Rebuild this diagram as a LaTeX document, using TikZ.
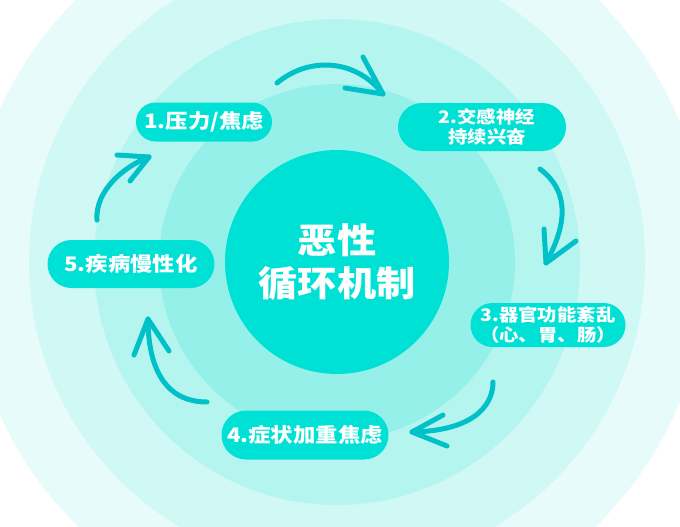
\documentclass[tikz,border=0pt]{standalone}
\usepackage{fontspec}
\newfontfamily\cjk{Noto Sans CJK SC}[FakeStretch=1.12]
\definecolor{ringA}{HTML}{E6FBFA}
\definecolor{ringB}{HTML}{D0F8F5}
\definecolor{ringC}{HTML}{B5F5F0}
\definecolor{ringD}{HTML}{96F0EA}
\definecolor{corec}{HTML}{00E1D6}
\definecolor{arrowc}{HTML}{00C0C8}
\begin{document}
\begin{tikzpicture}[x=1pt,y=-1pt,
  pill/.style={rectangle, fill=corec, text=white, inner sep=0pt, align=center},
  bigtxt/.style={font=\cjk\bfseries\fontsize{20}{24}\selectfont},
  smalltxt/.style={font=\cjk\bfseries\fontsize{17.3}{20}\selectfont},
  cyc/.style={draw=arrowc, line width=5pt, line cap=round, line join=round}]
\useasboundingbox (0,0) rectangle (680,527);
\begin{scope}
\clip (0,0) rectangle (680,527);
\fill[white] (0,0) rectangle (680,527);
\fill[ringA] (337,262) circle[radius=370pt];
\fill[ringB] (337,262) circle[radius=308pt];
\fill[ringC] (337,262) circle[radius=243pt];
\fill[ringD] (337,262) circle[radius=178pt];
\end{scope}
\node[circle, fill=corec, minimum size=224pt, inner sep=0pt, text=white, align=center,
  font=\cjk\bfseries\fontsize{35}{43}\selectfont] (core) at (337,262) {恶性\\循环机制};
\node[pill, bigtxt, minimum width=136pt, minimum height=39pt, rounded corners=19.5pt] (p1) at (204,122) {1.压力/焦虑};
\node[pill, smalltxt, minimum width=168pt, minimum height=48pt, rounded corners=24pt] (p2) at (482,127) {\hspace*{10pt}2.交感神经\\\hspace*{10pt}持续兴奋};
\node[pill, smalltxt, minimum width=155pt, minimum height=44pt, rounded corners=22pt] (p3) at (548,325) {3.器官功能紊乱\\（心、胃、肠）};
\node[pill, bigtxt, minimum width=167pt, minimum height=49pt, rounded corners=24.5pt] (p4) at (305,435) {4.症状加重焦虑};
\node[pill, bigtxt, minimum width=167pt, minimum height=48pt, rounded corners=24pt] (p5) at (131,264) {5.疾病慢性化};
% cycle arrows
\coordinate (s12) at (277,83);  \coordinate (t12) at (383,94);
\coordinate (b12a) at (363,57); \coordinate (b12b) at (345,88);
\coordinate (s23) at (540,169); \coordinate (t23) at (546,263);
\coordinate (b23a) at (544,229); \coordinate (b23b) at (576,241);
\coordinate (s34) at (493,382); \coordinate (t34) at (412,432);
\coordinate (b34a) at (443,415); \coordinate (b34b) at (447,446);
\coordinate (s45) at (207,402); \coordinate (t45) at (148,319);
\coordinate (b45a) at (134,355); \coordinate (b45b) at (169,351);
\coordinate (s51) at (97,220);  \coordinate (t51) at (149,157);
\coordinate (b51a) at (117,155); \coordinate (b51b) at (130,181);
\draw[cyc] (s12) .. controls (308,57) and (355,58) .. (t12);
\draw[cyc] (b12a) -- (t12) -- (b12b);
\draw[cyc] (s23) .. controls (572,193) and (565,228) .. (t23);
\draw[cyc] (b23a) -- (t23) -- (b23b);
\draw[cyc] (s34) .. controls (493,408) and (470,431) .. (t34);
\draw[cyc] (b34a) -- (t34) -- (b34b);
\draw[cyc] (s45) .. controls (155,402) and (148,350) .. (t45);
\draw[cyc] (b45a) -- (t45) -- (b45b);
\draw[cyc] (s51) .. controls (95,190) and (125,166) .. (t51);
\draw[cyc] (b51a) -- (t51) -- (b51b);
\end{tikzpicture}
\end{document}
